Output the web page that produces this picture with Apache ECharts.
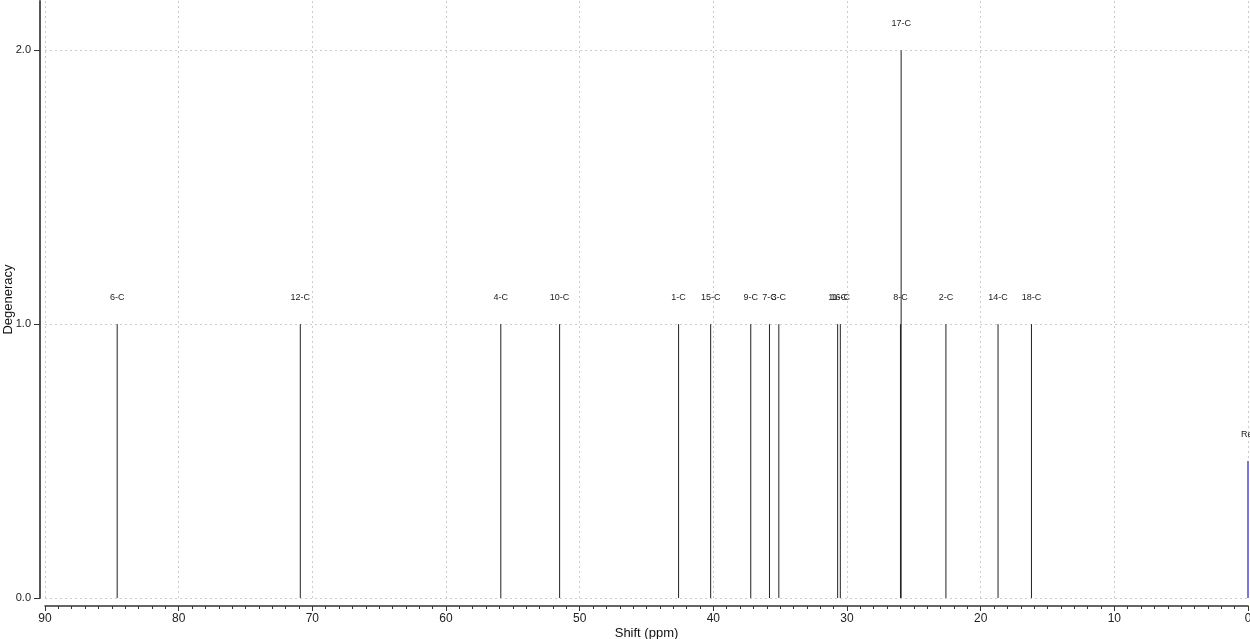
<!DOCTYPE html>
<html>
<head>
<meta charset="utf-8">
<script src="https://cdn.jsdelivr.net/npm/echarts@6/dist/echarts.min.js"></script>
<style>html,body{margin:0;padding:0;background:#fff;}#c{width:1250px;height:639px;}</style>
</head>
<body>
<div id="c"></div>
<script>
const peakLabels = ['6-C','12-C','4-C','10-C','1-C','15-C','9-C','7-C','3-C','11-C','16-C','8-C','17-C','2-C','14-C','18-C'];
const peakShifts = [84.6, 70.9, 55.9, 51.5, 42.6, 40.2, 37.2, 35.8, 35.1, 30.7, 30.5, 26.0, 25.95, 22.6, 18.7, 16.2];
const peakDegeneracy = [1, 1, 1, 1, 1, 1, 1, 1, 1, 1, 1, 1, 2, 1, 1, 1];
const refLabel = ['Ref'];
const refShift = [0];
const refHeight = [0.5];
const xTicks = [90, 80, 70, 60, 50, 40, 30, 20, 10, 0];
const yTicks = [0, 1, 2];

const chart = echarts.init(document.getElementById('c'), null, {renderer: 'canvas'});

function stick(color, width) {
  return function (params, api) {
    const x = api.value(0), h = api.value(1);
    const p0 = api.coord([x, 0]);
    const p1 = api.coord([x, h]);
    return {
      type: 'group',
      children: [
        {type: 'line', shape: {x1: p0[0], y1: p0[1], x2: p1[0], y2: p1[1]},
         style: {stroke: color, lineWidth: width}},
        {type: 'text', x: p1[0], y: p1[1] - 27,
         style: {text: api.value(2), fill: '#222', font: '9px "Liberation Sans", Arial, sans-serif',
                 textAlign: 'center', textVerticalAlign: 'middle'}}
      ]
    };
  };
}

const peakData = peakShifts.map((s, i) => [s, peakDegeneracy[i], peakLabels[i]]);
const refData = refShift.map((s, i) => [s, refHeight[i], refLabel[i]]);

chart.setOption({
  animation: false,
  backgroundColor: '#fff',
  grid: {left: 45, right: 2, top: 1, bottom: 41, containLabel: false, outerBoundsMode: 'none'},
  xAxis: {
    type: 'value', min: 0, max: 90, inverse: true, interval: 10,
    offset: 8, position: 'bottom',
    name: 'Shift (ppm)', nameLocation: 'middle', nameGap: 21, nameMoveOverlap: false,
    nameTextStyle: {fontSize: 13, color: '#111', fontFamily: 'Liberation Sans, Arial, sans-serif',
      verticalAlign: 'top'},
    axisLine: {show: true, onZero: false, lineStyle: {color: '#333', width: 1.5}},
    axisTick: {show: true, length: 5, lineStyle: {color: '#333'}},
    minorTick: {show: true, splitNumber: 10, length: 3, lineStyle: {color: '#333'}},
    axisLabel: {fontSize: 12, color: '#222', margin: 7, fontFamily: 'Liberation Sans, Arial, sans-serif',
      formatter: v => (xTicks.indexOf(v) >= 0 ? String(v) : '')},
    splitLine: {show: true, lineStyle: {color: '#ccc', type: [2, 3], width: 1}}
  },
  yAxis: {
    type: 'value', min: 0, max: 2.18, interval: 1,
    offset: 5, position: 'left',
    name: 'Degeneracy', nameLocation: 'middle', nameGap: 32, nameRotate: 90, nameMoveOverlap: false,
    nameTextStyle: {fontSize: 13, color: '#111', fontFamily: 'Liberation Sans, Arial, sans-serif',
      verticalAlign: 'middle'},
    axisLine: {show: true, onZero: false, lineStyle: {color: '#555', width: 2}},
    axisTick: {show: true, length: 6, lineStyle: {color: '#333'}},
    axisLabel: {fontSize: 11, color: '#222', margin: 9, showMaxLabel: false,
      fontFamily: 'Liberation Sans, Arial, sans-serif',
      formatter: v => (yTicks.indexOf(v) >= 0 ? v.toFixed(1) : '')},
    splitLine: {show: true, showMaxLine: false, lineStyle: {color: '#ccc', type: [2, 3], width: 1}}
  },
  series: [
    {type: 'custom', renderItem: stick('#222', 1), data: peakData, clip: false,
     encode: {x: 0, y: 1}},
    {type: 'custom', renderItem: stick('#7777dd', 2), data: refData, clip: false,
     encode: {x: 0, y: 1}}
  ]
});
</script>
</body>
</html>
